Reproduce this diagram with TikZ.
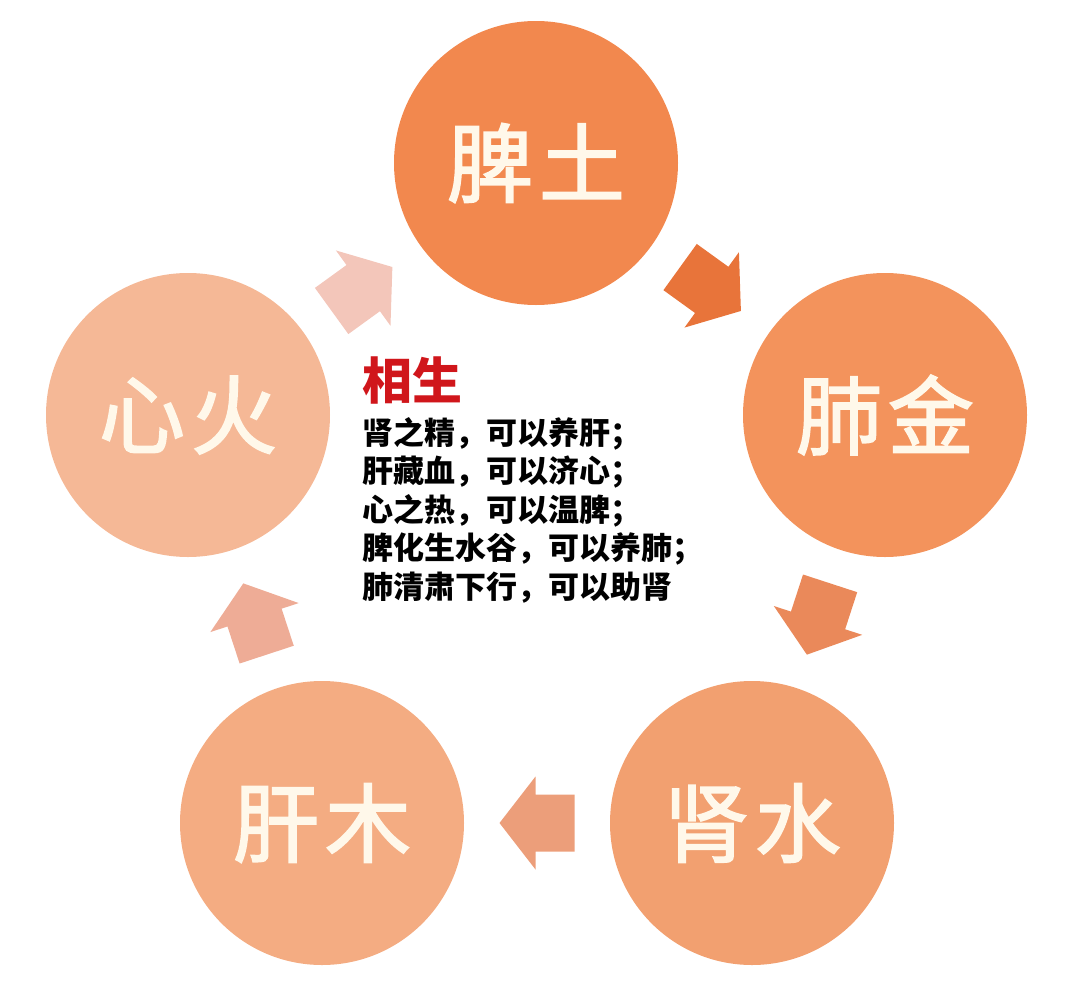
\documentclass[tikz,border=0pt]{standalone}
\usepackage{fontspec}
\newfontfamily\cjk{Noto Sans CJK SC}
\newfontfamily\cjklabel[FakeBold=2]{Noto Sans CJK SC}
\usetikzlibrary{positioning, calc}

\definecolor{piCol}{HTML}{F2884E}
\definecolor{feiCol}{HTML}{F3935C}
\definecolor{shenCol}{HTML}{F2A070}
\definecolor{ganCol}{HTML}{F4AC82}
\definecolor{xinCol}{HTML}{F5B896}
\definecolor{labelCol}{HTML}{FFF8EA}
\definecolor{titleCol}{HTML}{D0161B}
\definecolor{arrA}{HTML}{E8743A}
\definecolor{arrB}{HTML}{EA895A}
\definecolor{arrC}{HTML}{EC9E7A}
\definecolor{arrD}{HTML}{EEAC96}
\definecolor{arrE}{HTML}{F3C6BA}

\newcommand\twochar[2]{#1\hspace{6pt}#2}

\tikzset{
	blockarr/.pic={
		\fill[#1] (-37.5,-28.5) -- (1.5,-28.5) -- (1.5,-46.5) -- (37.5,0)
			-- (1.5,46.5) -- (1.5,28.5) -- (-37.5,28.5) -- cycle;
	},
}

\begin{document}
\begin{tikzpicture}[x=1pt,y=-1pt,
	circ/.style={
		circle,
		minimum size=284pt,
		inner sep=0pt,
		text=labelCol,
		font=\cjklabel\fontsize{86}{90}\selectfont,
	},
	txt/.style={anchor=base west,inner sep=0pt,font=\cjk\bfseries\fontsize{31}{38}\selectfont},
]
	\useasboundingbox (0,0) rectangle (1080,999);

	% the five organs
	\node[circ,fill=piCol] (pi) at (536,163) {\twochar{脾}{土}};
	\node[circ,fill=feiCol] (fei) at (885,415) {\twochar{肺}{金}};
	\node[circ,fill=shenCol] (shen) at (752,823) {\twochar{肾}{水}};
	\node[circ,fill=ganCol] (gan) at (322,823) {\twochar{肝}{木}};
	\node[circ,fill=xinCol] (xin) at (188,415) {\twochar{心}{火}};

	% generating cycle
	\foreach \a/\b/\c in {pi/fei/arrA,fei/shen/arrB,shen/gan/arrC,gan/xin/arrD,xin/pi/arrE}{
		\path (\a) -- (\b) pic[midway,sloped,allow upside down] {blockarr=\c};
	}

	% text in the middle
	\node[txt,text=titleCol,font=\cjk\bfseries\fontsize{50}{54}\selectfont] (title) at (362,399) {相生};
	\foreach \t [count=\i] in {肾之精，可以养肝；,肝藏血，可以济心；,心之热，可以温脾；,脾化生水谷，可以养肺；,肺清肃下行，可以助肾}{
		\node[txt] (line\i) at (362,405.5+38.5*\i) {\t};
	}
\end{tikzpicture}
\end{document}
